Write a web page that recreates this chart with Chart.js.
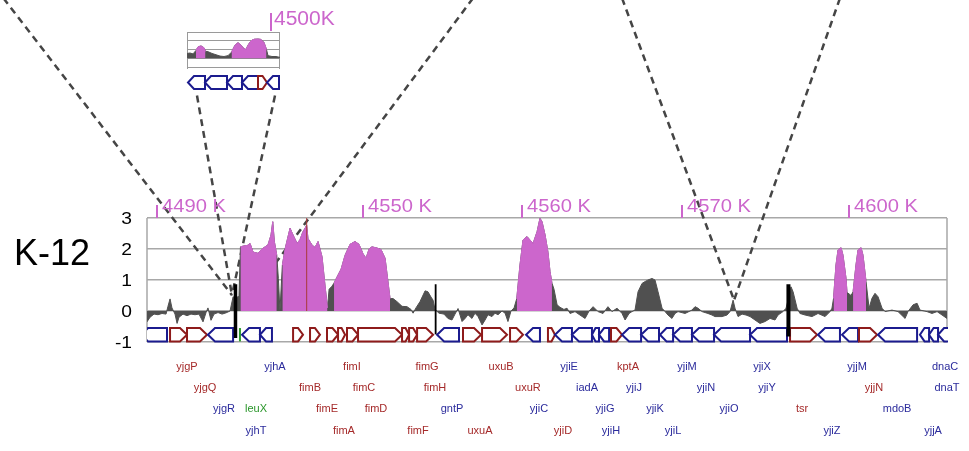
<!DOCTYPE html>
<html><head><meta charset="utf-8">
<script src="https://cdn.jsdelivr.net/npm/chart.js"></script>
<style>
html,body{margin:0;padding:0;background:#fff;}
#wrap{position:relative;width:969px;height:451px;overflow:hidden;}
#main{position:absolute;left:0;top:0;}
#inset{position:absolute;left:160px;top:0;}
</style>
</head><body>
<div id="wrap"><canvas id="main" width="969" height="451"></canvas><canvas id="inset" width="190" height="100"></canvas></div>
<script>
// ---------- DATA (positions in kb from the left edge of the window) ----------
const strainLabel = 'K-12';
const yTickValues = [3, 2, 1, 0, -1];
const posTickAt = [0.6, 13.52, 23.46, 33.46, 43.89];
const posTickLabels = ['4490 K', '4550 K', '4560 K', '4570 K', '4600 K'];

const sigPos = [0,0.19,0.44,0.69,0.94,1.19,1.31,1.44,1.56,1.75,1.88,2.0,2.25,2.5,2.75,3.0,3.25,3.5,3.69,3.81,4.0,4.19,4.44,4.69,4.94,5.19,5.38,5.56,5.75,
5.84,6.06,6.31,6.44,6.63,6.94,7.19,7.38,7.56,7.75,7.86,7.96,8.11,
8.21,8.31,8.41,
8.46,8.63,8.94,9.13,9.38,9.56,9.75,9.88,9.98,10.06,10.31,10.5,10.69,10.94,11.13,11.28,
11.38,11.56,
11.69,11.88,12.13,12.38,12.69,13.0,13.25,13.5,13.69,13.88,14.06,14.38,14.63,14.88,15.0,15.19,
15.38,15.63,15.94,16.25,16.5,16.63,16.81,17.06,17.38,17.56,17.75,17.88,18.0,18.25,18.56,18.81,19.06,19.25,19.44,19.69,19.88,20.06,20.31,20.5,20.69,20.94,21.13,21.31,21.56,21.75,21.94,22.19,22.38,22.56,22.75,22.94,
23.11,23.31,23.5,23.75,23.94,24.13,24.38,24.56,24.69,24.88,25.06,25.19,25.31,
25.44,25.63,25.81,26.06,26.25,26.44,26.75,27.06,27.38,27.63,27.88,28.19,28.5,28.81,29.06,29.38,29.69,29.88,30.13,30.31,30.5,30.69,30.94,31.13,31.31,31.56,31.75,31.94,32.19,32.38,32.56,32.81,33.0,33.19,33.63,34.06,34.25,34.44,34.69,35.06,35.31,35.5,35.94,36.25,36.44,36.63,36.75,36.94,37.19,37.44,37.69,38.0,38.31,38.63,38.94,39.25,39.44,39.75,39.94,40.13,40.25,40.38,40.63,40.81,41.13,41.56,41.94,42.38,42.69,42.81,
42.91,43.06,43.19,43.38,43.5,43.69,43.75,
43.88,44.0,
44.13,44.31,44.44,44.63,44.75,44.94,
45.13,45.31,45.5,45.69,45.94,46.13,46.56,46.94,47.38,47.56,47.88,48.13,48.31,48.75,49.06,49.38,49.69,50.0];
const sigVal = [-0.35,-0.2,-0.1,-0.12,-0.08,-0.1,0.15,0.39,0.1,-0.1,-0.4,-0.2,-0.1,-0.15,-0.1,-0.12,-0.1,-0.35,-0.05,0.1,-0.3,-0.1,-0.05,-0.1,-0.06,0.0,0.46,0.4,0.5,
2.07,2.1,2.12,2.18,1.9,1.86,2.0,2.07,2.13,2.45,2.88,2.24,1.8,
1.05,0.0,1.0,
1.48,2.0,2.67,2.45,2.18,2.3,2.56,2.67,2.77,2.34,2.13,2.05,2.24,1.75,0.8,0.1,
0.7,0.8,
0.9,1.1,1.35,1.8,2.15,2.24,2.15,1.85,1.7,2.0,2.07,2.03,1.98,1.7,1.2,0.4,
0.4,0.3,0.15,0.14,0.05,-0.07,0.1,0.3,0.65,0.62,0.45,0.35,0.05,-0.07,-0.1,-0.24,-0.29,-0.1,0.08,-0.34,-0.24,-0.12,-0.24,-0.07,-0.18,-0.45,-0.29,-0.12,-0.18,-0.07,-0.12,0.0,-0.07,-0.34,0.0,0.1,
0.4,1.48,2.29,2.4,2.29,2.18,2.56,2.99,2.88,2.45,1.9,1.27,0.9,
0.7,0.2,0.12,0.05,0.09,-0.08,-0.02,-0.13,-0.24,0.0,0.14,-0.02,-0.08,0.14,-0.02,0.09,-0.08,-0.29,-0.08,-0.02,0.03,0.62,0.89,0.95,1.0,1.05,1.0,0.62,0.09,-0.02,-0.13,-0.24,-0.08,-0.02,-0.08,0.03,0.14,0.09,-0.02,-0.08,-0.13,-0.18,-0.18,-0.13,-0.02,0.35,0.09,-0.18,-0.1,-0.13,-0.18,-0.29,-0.4,-0.34,-0.24,-0.29,-0.13,-0.02,0.09,0.5,0.78,0.62,0.09,-0.08,-0.13,-0.18,-0.08,-0.18,-0.02,0.09,
0.41,1.48,1.97,2.04,1.8,1.05,0.6,
0.55,0.5,
0.62,1.48,1.97,2.04,1.8,0.95,
0.09,0.41,0.57,0.46,0.09,-0.02,0.03,-0.02,-0.24,-0.02,0.2,0.25,0.03,-0.02,-0.08,-0.02,-0.13,-0.24];

const islandStart = [5.84, 8.46, 11.69, 23.11, 42.91, 44.13];
const islandEnd   = [8.11, 11.28, 15.19, 25.31, 43.75, 44.94];

const geneStart  = [-0.375,1.44,2.5,3.81,5.81,5.94,7.06,9.13,10.19,11.25,11.94,12.5,13.19,15.94,16.38,16.88,18.13,19.75,20.94,22.69,23.69,25.06,25.5,26.56,27.81,28.25,29.0,29.69,30.88,32.06,32.88,34.06,35.44,37.69,40.19,41.94,43.44,44.5,45.69,48.31,48.88,49.44];
const geneEnd    = [1.25,2.5,3.75,5.38,5.81,7.06,7.81,9.75,10.81,11.94,12.38,13.19,15.94,16.38,16.88,17.88,19.5,20.88,22.5,23.5,24.56,25.5,26.56,27.81,28.25,28.88,29.69,30.88,32.0,32.88,34.06,35.44,37.69,40.0,41.88,43.31,44.44,45.63,48.13,48.88,49.44,50.19];
const geneStrand = [-1,1,1,-1,0,-1,-1,1,1,1,1,1,1,1,1,1,-1,1,1,1,-1,1,-1,-1,-1,-1,1,-1,-1,-1,-1,-1,-1,-1,1,-1,-1,1,-1,-1,-1,-1];

const geneLabelNames = ['yjgP','yjhA','fimI','fimG','uxuB','yjiE','kptA','yjiM','yjiX','yjjM','dnaC',
  'yjgQ','fimB','fimC','fimH','uxuR','iadA','yjiJ','yjiN','yjiY','yjjN','dnaT',
  'yjgR','leuX','fimE','fimD','gntP','yjiC','yjiG','yjiK','yjiO','tsr','mdoB',
  'yjhT','fimA','fimF','uxuA','yjiD','yjiH','yjiL','yjiZ','yjjA'];
const geneLabelPos = [2.5,8.0,12.81,17.5,22.13,26.38,30.06,33.75,38.44,44.38,49.88,
  3.63,10.19,13.56,18.0,23.81,27.5,30.44,34.94,38.75,45.44,50.0,
  4.81,6.81,11.25,14.31,19.06,24.5,28.63,31.75,36.38,40.94,46.88,
  6.81,12.31,16.94,20.81,26.0,29.0,32.88,42.81,49.13];
const geneLabelRow = [0,0,0,0,0,0,0,0,0,0,0, 1,1,1,1,1,1,1,1,1,1,1, 2,2,2,2,2,2,2,2,2,2,2, 3,3,3,3,3,3,3,3,3];
const geneLabelStrand = [1,-1,1,1,1,-1,1,-1,-1,-1,-1,
  1,1,1,1,1,-1,-1,-1,-1,1,-1,
  -1,0,1,1,-1,-1,-1,-1,-1,1,-1,
  -1,1,1,1,1,-1,-1,-1,-1];

const blackBarPos = [5.53, 18.04, 40.09];
const blackBarTop = [0.86, 0.86, 0.86];
const blackBarBottom = [-0.87, -0.75, -0.82];
const redMarkPos = 9.98;

// connector (zoom) lines, in main-chart data coordinates
const connFromX = [-8.97, 3.125, 8.0, 20.375, 29.69, 43.31];
const connFromY = [10.09, 6.95, 6.95, 10.09, 10.09, 10.09];
const connToX   = [5.31, 5.31, 5.31, 6.44, 36.69, 36.69];
const connToY   = [0.51, 0.51, 0.51, 0.44, 0.35, 0.35];

// inset (4500K window)
const insetTickAt = [8.4];
const insetTickLabels = ['4500K'];
const insetPos = [0,0.3,0.6,0.9,1.1,1.4,1.7,1.85,2.1,2.5,2.9,3.3,3.7,4.1,4.45,4.8,5.1,5.4,5.7,5.9,6.1,6.4,6.7,7.1,7.4,7.7,7.95,8.1,8.5,8.9,9.3];
const insetVal = [0.55,0.6,0.5,0.9,1.3,1.41,1.2,0.8,0.75,0.55,0.4,0.25,0.2,0.3,0.7,1.5,1.78,1.5,1.1,1.0,1.5,2.0,2.17,2.2,2.15,1.8,1.0,0.3,0.2,0.2,0.1];
const insetIslandStart = [0.9, 4.45];
const insetIslandEnd = [1.85, 7.95];
const insetGeneStart = [0.1,1.8,4.0,5.5,7.1,8.0];
const insetGeneEnd = [1.8,4.0,5.5,7.1,8.0,9.2];
const insetGeneStrand = [-1,-1,-1,-1,1,-1];

// ---------- STYLE ----------
const FONT = "'Liberation Sans', Arial, Helvetica, sans-serif";
const GRID = '#a8a8a8';
const GRAY = '#505050';
const MAGENTA = '#cc66cc';
const GENE_COL = {'1': '#8e1b1b', '-1': '#1b1b8e', '0': '#2a9a2a'};
const LABEL_COL = {'1': '#a52a2a', '-1': '#2b2b9c', '0': '#2a962a'};

function pts(xs, ys) { return xs.map((x, i) => ({x: x, y: ys[i]})); }
function islandPts(xs, ys, st, en) {
  return xs.map((x, i) => ({x: x, y: st.some((s, k) => x >= s - 1e-9 && x <= en[k] + 1e-9) ? ys[i] : null}));
}
function wideText(ctx, text, x, y, sx) {
  ctx.save(); ctx.translate(x, y); ctx.scale(sx, 1); ctx.fillText(text, 0, 0); ctx.restore();
}
function drawGene(ctx, xs, ys, s, e, strand, yc, hh, arrow, lw) {
  const col = GENE_COL[String(strand)];
  const x1 = xs.getPixelForValue(s), x2 = xs.getPixelForValue(e);
  const yt = ys.getPixelForValue(yc + hh), yb = ys.getPixelForValue(yc - hh), ym = ys.getPixelForValue(yc);
  ctx.lineWidth = lw; ctx.strokeStyle = col; ctx.lineJoin = 'miter';
  if (strand === 0) {
    ctx.beginPath(); ctx.moveTo(x1, yt); ctx.lineTo(x1, yb); ctx.lineWidth = 2; ctx.stroke(); return;
  }
  const a = Math.min(arrow, (x2 - x1) * 0.5);
  ctx.beginPath();
  if (strand > 0) {
    ctx.moveTo(x1, yt); ctx.lineTo(x2 - a, yt); ctx.lineTo(x2, ym); ctx.lineTo(x2 - a, yb); ctx.lineTo(x1, yb);
  } else {
    ctx.moveTo(x2, yt); ctx.lineTo(x1 + a, yt); ctx.lineTo(x1, ym); ctx.lineTo(x1 + a, yb); ctx.lineTo(x2, yb);
  }
  ctx.closePath();
  ctx.fillStyle = '#fff'; ctx.fill(); ctx.stroke();
}
function drawPosTicks(ctx, xs, top, at, labels, size, tickH, sx, gap) {
  ctx.save();
  ctx.strokeStyle = MAGENTA; ctx.fillStyle = MAGENTA; ctx.lineWidth = 2;
  ctx.font = size + 'px ' + FONT; ctx.textAlign = 'left'; ctx.textBaseline = 'alphabetic';
  at.forEach((p, i) => {
    const px = Math.round(xs.getPixelForValue(p));
    ctx.beginPath(); ctx.moveTo(px, top - tickH); ctx.lineTo(px, top); ctx.stroke();
    wideText(ctx, labels[i], px + gap, top - 6.5, sx);
  });
  ctx.restore();
}

const mainDecor = {
  id: 'mainDecor',
  beforeDatasetsDraw(chart) {
    const {ctx, chartArea: ca} = chart; const xs = chart.scales.x, ys = chart.scales.y;
    ctx.save();
    ctx.strokeStyle = GRID; ctx.lineWidth = 1.5;
    ctx.beginPath();
    ctx.moveTo(ca.left, ca.top); ctx.lineTo(ca.left, ca.bottom);
    ctx.moveTo(ca.right, ca.top); ctx.lineTo(ca.right, ca.bottom);
    ctx.stroke();
    ctx.beginPath(); ctx.rect(ca.left, 0, ca.right - ca.left + 1, chart.height); ctx.clip();
    geneStart.forEach((s, i) => drawGene(ctx, xs, ys, s, geneEnd[i], geneStrand[i], -0.765, 0.215, 7, 2));
    ctx.restore();
  },
  afterDraw(chart) {
    const {ctx, chartArea: ca} = chart; const xs = chart.scales.x, ys = chart.scales.y;
    drawPosTicks(ctx, xs, ca.top, posTickAt, posTickLabels, 18, 13, 1.12, 5);
    ctx.save();
    // y-axis value labels
    ctx.fillStyle = '#000'; ctx.font = '16px ' + FONT; ctx.textAlign = 'right'; ctx.textBaseline = 'alphabetic';
    yTickValues.forEach(v => wideText(ctx, String(v), ca.left - 15, ys.getPixelForValue(v) + 6, 1.2));
    // gene names
    ctx.font = '11px ' + FONT; ctx.textAlign = 'center';
    const rowBase = [27.5, 49, 70, 91.5];
    geneLabelNames.forEach((n, i) => {
      ctx.fillStyle = LABEL_COL[String(geneLabelStrand[i])];
      ctx.fillText(n, xs.getPixelForValue(geneLabelPos[i]), ca.bottom + rowBase[geneLabelRow[i]]);
    });
    ctx.fillStyle = '#000'; ctx.font = '36px ' + FONT; ctx.textAlign = 'left';
    ctx.fillText(strainLabel, 14, 265);
    ctx.restore();
  }
};

const mainDatasets = [];
connFromX.forEach((x, k) => mainDatasets.push({
  data: [{x: x, y: connFromY[k]}, {x: connToX[k], y: connToY[k]}],
  borderColor: '#454545', borderWidth: 2.5, borderDash: [7, 5], pointRadius: 0, fill: false, clip: false, order: 10
}));
mainDatasets.push({data: pts(sigPos, sigVal), borderColor: GRAY, backgroundColor: GRAY, borderWidth: 1, pointRadius: 0, fill: 'origin', tension: 0, order: 6});
mainDatasets.push({data: islandPts(sigPos, sigVal, islandStart, islandEnd), borderColor: MAGENTA, backgroundColor: MAGENTA, borderWidth: 1, pointRadius: 0, fill: 'origin', tension: 0, spanGaps: false, order: 5});
mainDatasets.push({data: [{x: redMarkPos, y: 0}, {x: redMarkPos, y: 3}], borderColor: '#a83a3a', borderWidth: 1, pointRadius: 0, fill: false, order: 3});
const barWidths = [3.5, 1.8, 4];
blackBarPos.forEach((p, k) => mainDatasets.push({
  data: [{x: p, y: blackBarTop[k]}, {x: p, y: blackBarBottom[k]}],
  borderColor: '#000', borderWidth: barWidths[k], borderCapStyle: 'butt', pointRadius: 0, fill: false, clip: false, order: 1
}));

new Chart(document.getElementById('main'), {
  type: 'line',
  data: {datasets: mainDatasets},
  options: {
    responsive: false, animation: false, events: [],
    layout: {padding: {left: 0, right: 22, top: 218, bottom: 109}},
    plugins: {legend: {display: false}, tooltip: {enabled: false}},
    scales: {
      x: {type: 'linear', min: 0, max: 50, display: false},
      y: {
        type: 'linear', min: -1, max: 3,
        afterFit: (s) => { s.width = 147; },
        grid: {color: GRID, lineWidth: 1.5, drawTicks: false},
        border: {display: false},
        ticks: {display: false, stepSize: 1}
      }
    }
  },
  plugins: [mainDecor]
});

// ---------- INSET ----------
const insetDecor = {
  id: 'insetDecor',
  beforeDatasetsDraw(chart) {
    const {ctx, chartArea: ca} = chart; const xs = chart.scales.x, ys = chart.scales.y;
    ctx.save();
    ctx.strokeStyle = '#9a9a9a'; ctx.lineWidth = 1;
    ctx.beginPath();
    ctx.moveTo(ca.left + 0.5, ca.top); ctx.lineTo(ca.left + 0.5, ca.bottom + 2);
    ctx.moveTo(ca.right - 0.5, ca.top); ctx.lineTo(ca.right - 0.5, ca.bottom + 2);
    ctx.stroke();
    insetGeneStart.forEach((s, i) => drawGene(ctx, xs, ys, s, insetGeneEnd[i], insetGeneStrand[i], -2.77, 0.74, 6, 2));
    ctx.restore();
  },
  afterDraw(chart) {
    drawPosTicks(chart.ctx, chart.scales.x, chart.chartArea.top - 1, insetTickAt, insetTickLabels, 20, 18, 1.05, 3);
  }
};

new Chart(document.getElementById('inset'), {
  type: 'line',
  data: {datasets: [
    {data: pts(insetPos, insetVal), borderColor: GRAY, backgroundColor: GRAY, borderWidth: 1, pointRadius: 0, fill: 'origin', order: 2},
    {data: islandPts(insetPos, insetVal, insetIslandStart, insetIslandEnd), borderColor: MAGENTA, backgroundColor: MAGENTA, borderWidth: 1, pointRadius: 0, fill: 'origin', spanGaps: false, order: 1}
  ]},
  options: {
    responsive: false, animation: false, events: [],
    layout: {padding: {left: 0, right: 70, top: 32, bottom: 33}},
    plugins: {legend: {display: false}, tooltip: {enabled: false}},
    scales: {
      x: {type: 'linear', min: 0, max: 9.3, display: false},
      y: {
        type: 'linear', min: -1, max: 3,
        afterFit: (s) => { s.width = 27; },
        grid: {color: '#9a9a9a', lineWidth: 1, drawTicks: false},
        border: {display: false},
        ticks: {display: false, stepSize: 1}
      }
    }
  },
  plugins: [insetDecor]
});
</script>
</body></html>
